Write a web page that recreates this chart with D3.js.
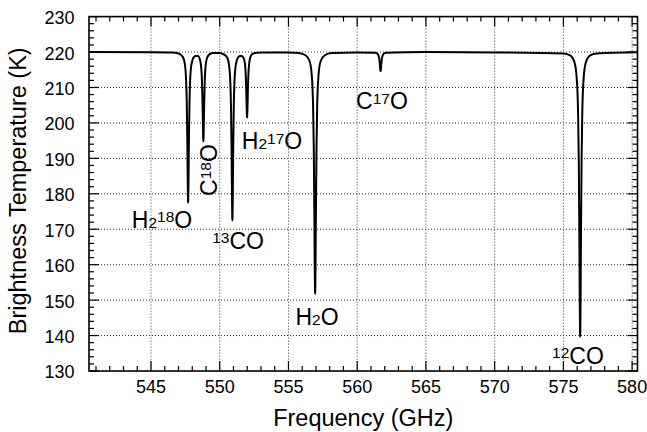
<!DOCTYPE html>
<meta charset="utf-8">
<head>
<style>
body { margin: 0; background: #fff; }
svg { font-family: "Liberation Sans", Arial, sans-serif; }
.grid line { stroke: #333; stroke-width: 1px; stroke-dasharray: 1,2; }
.frame { fill: none; stroke: #000; stroke-width: 1.6px; }
.tick-mark { stroke: #000; stroke-width: 1.2px; }
.spectrum { fill: none; stroke: #000; stroke-width: 2px; }
.ticklabel { font-size: 18px; fill: #000; }
.axistitle { font-size: 23.5px; fill: #000; }
.species { font-size: 23px; fill: #000; }
</style>
<script src="https://cdn.jsdelivr.net/npm/d3@7"></script>
</head>
<body>
<script>

// spectrum (frequency in GHz, brightness temperature in K)
var freqGHz = [
  540.49, 545.00, 546.50, 547.00, 547.30, 547.45, 547.55, 547.60, 547.64, 547.67, 547.69, 547.70,
  547.71, 547.73, 547.76, 547.80, 547.85, 547.95, 548.10, 548.25, 548.41, 548.56, 548.66, 548.71,
  548.75, 548.78, 548.80, 548.81, 548.82, 548.84, 548.87, 548.91, 548.96, 549.06, 549.21, 549.51,
  550.00, 550.22, 550.52, 550.67, 550.77, 550.82, 550.86, 550.89, 550.91, 550.92, 550.93, 550.95,
  550.98, 551.02, 551.07, 551.17, 551.32, 551.47, 551.59, 551.74, 551.84, 551.89, 551.93, 551.96,
  551.98, 551.99, 552.00, 552.02, 552.05, 552.09, 552.14, 552.24, 552.39, 552.69, 553.20, 555.00,
  555.74, 556.24, 556.54, 556.69, 556.79, 556.84, 556.88, 556.91, 556.93, 556.94, 556.95, 556.97,
  557.00, 557.04, 557.09, 557.19, 557.34, 557.64, 558.14, 560.00, 561.30, 561.45, 561.55, 561.60,
  561.64, 561.67, 561.69, 561.70, 561.71, 561.73, 561.76, 561.80, 561.85, 561.95, 562.10, 565.00,
  570.00, 575.02, 575.52, 575.82, 575.97, 576.07, 576.12, 576.16, 576.19, 576.21, 576.22, 576.23,
  576.25, 576.28, 576.32, 576.37, 576.47, 576.62, 576.92, 577.42, 580.39
];
var tempK = [
  220.0, 219.95, 219.85, 219.6, 218.7, 216.9, 212.4, 206.0, 195.5, 184.1, 178.4, 177.5,
  178.3, 184.0, 195.4, 205.9, 212.3, 216.7, 218.5, 218.9, 218.9, 217.9, 215.3, 211.6,
  205.4, 198.7, 195.3, 194.8, 195.3, 198.9, 205.6, 211.8, 215.5, 218.2, 219.2, 219.7,
  219.7, 219.5, 218.6, 216.5, 211.5, 204.4, 192.6, 179.9, 173.4, 172.5, 173.3, 179.8,
  192.5, 204.3, 211.4, 216.4, 218.4, 218.9, 218.9, 218.3, 216.5, 213.7, 209.2, 204.3,
  201.9, 201.5, 202.1, 204.5, 209.5, 214.0, 216.7, 218.7, 219.5, 219.8, 219.9, 219.9,
  219.7, 219.1, 217.4, 213.7, 204.9, 193.4, 176.4, 160.2, 152.8, 151.8, 152.8, 160.2,
  176.4, 193.4, 204.9, 213.7, 217.4, 219.1, 219.7, 219.9, 219.8, 219.6, 219.0, 218.2,
  216.9, 215.4, 214.7, 214.6, 214.7, 215.4, 216.9, 218.2, 219.0, 219.6, 219.8, 220.0,
  219.9, 219.6, 219.0, 216.9, 212.5, 202.3, 188.7, 168.6, 149.6, 140.9, 139.7, 140.9,
  149.6, 168.6, 188.7, 202.3, 212.5, 216.9, 219.0, 219.6, 219.95
];

// axis ticks
var xTicks = [545, 550, 555, 560, 565, 570, 575, 580];
var yTicks = [130, 140, 150, 160, 170, 180, 190, 200, 210, 220, 230];

// species labels: text pieces ("" normal, "sub", "sup"), anchor in data units
var labelParts = [
  [["H", ""], ["2", "sub"], ["18", "sup"], ["O", ""]],
  [["C", ""], ["18", "sup"], ["O", ""]],
  [["13", "sup"], ["CO", ""]],
  [["H", ""], ["2", "sub"], ["17", "sup"], ["O", ""]],
  [["H", ""], ["2", "sub"], ["O", ""]],
  [["C", ""], ["17", "sup"], ["O", ""]],
  [["12", "sup"], ["CO", ""]]
];
var labelFreq = [545.80, 549.80, 551.33, 553.80, 557.08, 561.80, 576.06];
var labelTemp = [170.4, 186.7, 164.5, 192.5, 142.9, 203.8, 132.0];
var labelVertical = [false, true, false, false, false, false, false];

var W = 647, H = 432;
var margin = {top: 16.6, right: 9.5, bottom: 61, left: 89};
var width = W - margin.left - margin.right,
    height = H - margin.top - margin.bottom;

var x = d3.scaleLinear().domain([540.49, 580.39]).range([0, width]);
var y = d3.scaleLinear().domain([130, 230]).range([height, 0]);

var svg = d3.select("body").append("svg")
    .attr("width", W)
    .attr("height", H);

var g = svg.append("g")
    .attr("transform", "translate(" + margin.left + "," + margin.top + ")");

// dotted grid at major ticks
g.append("g").attr("class", "grid")
  .selectAll("line").data(xTicks).enter().append("line")
    .attr("x1", function(d) { return x(d); }).attr("x2", function(d) { return x(d); })
    .attr("y1", 0).attr("y2", height);
g.append("g").attr("class", "grid")
  .selectAll("line").data(yTicks.filter(function(d) { return d > 130 && d < 230; })).enter().append("line")
    .attr("x1", 0).attr("x2", width)
    .attr("y1", function(d) { return y(d); }).attr("y2", function(d) { return y(d); });

// inward ticks on all four sides
var xMinor = d3.range(541, 581, 1);
var yMinor = d3.range(130, 231, 2);
var ticksG = g.append("g");
function tickLen(v, step) { return (Math.round(v) % step === 0) ? 10 : 5; }
xMinor.forEach(function(v) {
  var L = tickLen(v, 5);
  ticksG.append("line").attr("class", "tick-mark")
    .attr("x1", x(v)).attr("x2", x(v)).attr("y1", height).attr("y2", height - L);
  ticksG.append("line").attr("class", "tick-mark")
    .attr("x1", x(v)).attr("x2", x(v)).attr("y1", 0).attr("y2", L);
});
yMinor.forEach(function(v) {
  var L = tickLen(v, 10);
  ticksG.append("line").attr("class", "tick-mark")
    .attr("x1", 0).attr("x2", L).attr("y1", y(v)).attr("y2", y(v));
  ticksG.append("line").attr("class", "tick-mark")
    .attr("x1", width).attr("x2", width - L).attr("y1", y(v)).attr("y2", y(v));
});

// spectrum
g.append("clipPath").attr("id", "plotclip")
  .append("rect").attr("width", width).attr("height", height);

var line = d3.line()
    .curve(d3.curveMonotoneX)
    .x(function(d, i) { return x(freqGHz[i]); })
    .y(function(d, i) { return y(tempK[i]); });

g.append("path")
    .datum(freqGHz)
    .attr("class", "spectrum")
    .attr("clip-path", "url(#plotclip)")
    .attr("d", line);

// frame
g.append("rect").attr("class", "frame")
    .attr("width", width).attr("height", height);

// tick labels
g.append("g").selectAll("text").data(xTicks).enter().append("text")
    .attr("class", "ticklabel")
    .attr("x", function(d) { return x(d); })
    .attr("y", height + 22.5)
    .attr("text-anchor", "middle")
    .text(function(d) { return d; });

g.append("g").selectAll("text").data(yTicks).enter().append("text")
    .attr("class", "ticklabel")
    .attr("x", -14.5)
    .attr("y", function(d) { return y(d) + 7.5; })
    .attr("text-anchor", "end")
    .text(function(d) { return d; });

// axis titles
svg.append("text")
    .attr("class", "axistitle")
    .attr("x", margin.left + width / 2)
    .attr("y", 426)
    .attr("text-anchor", "middle")
    .text("Frequency (GHz)");

svg.append("text")
    .attr("class", "axistitle")
    .attr("transform", "translate(26," + (margin.top + height / 2 - 3) + ") rotate(-90)")
    .attr("text-anchor", "middle")
    .text("Brightness Temperature (K)");

// species labels
labelParts.forEach(function(parts, i) {
  var t = g.append("text")
      .attr("class", "species")
      .attr("text-anchor", "middle");
  if (labelVertical[i]) {
    t.attr("transform", "translate(" + x(labelFreq[i]) + "," + y(labelTemp[i]) + ") rotate(-90)");
  } else {
    t.attr("x", x(labelFreq[i])).attr("y", y(labelTemp[i]));
  }
  var raised = false;
  parts.forEach(function(p) {
    var s = t.append("tspan").text(p[0]);
    if (p[1] === "sup") {
      s.style("font-size", "15.5px").attr("dy", raised ? 0 : -5.5);
      raised = true;
    } else if (p[1] === "sub") {
      s.style("font-size", "15.5px");
      if (raised) { s.attr("dy", 5.5); raised = false; }
    } else {
      if (raised) { s.attr("dy", 5.5); raised = false; }
    }
  });
});

</script>
</body>
</html>
